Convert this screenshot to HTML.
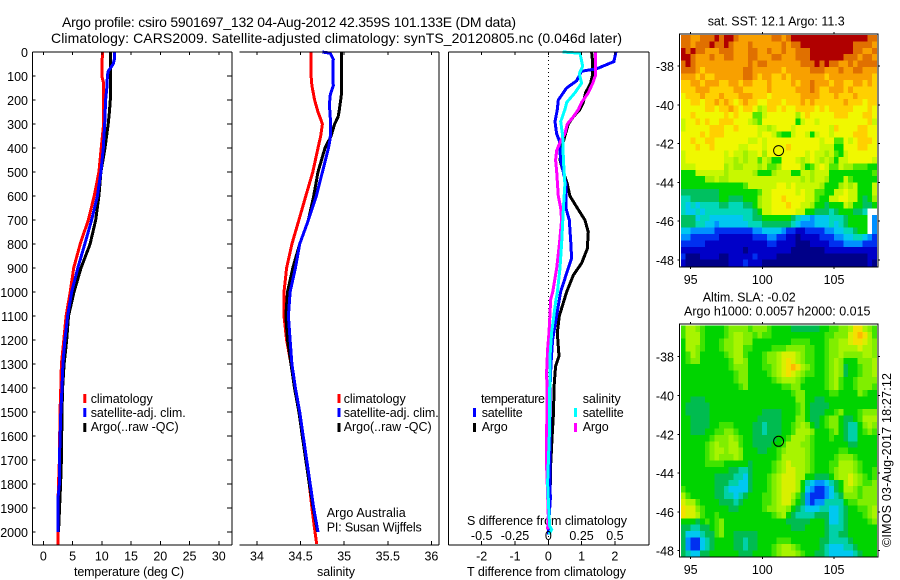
<!DOCTYPE html>
<html>
<head>
<meta charset="utf-8">
<title>Argo profile chart</title>
<style>
html,body{margin:0;padding:0;background:#fff;}
svg{display:block;}
text{font-family:"Liberation Sans",sans-serif;font-size:12.5px;fill:#000;}
.t{font-size:14px;}
</style>
</head>
<body>
<svg id="chart" xmlns="http://www.w3.org/2000/svg" width="900" height="580" viewBox="0 0 900 580">
<rect width="900" height="580" fill="#fff"/>
<text class="t" x="62" y="27" textLength="454">Argo profile: csiro 5901697_132 04-Aug-2012 42.359S 101.133E (DM data)</text>
<text class="t" x="51" y="43" textLength="571">Climatology: CARS2009. Satellite-adjusted climatology: synTS_20120805.nc (0.046d later)</text>
<text x="74" y="576" textLength="110">temperature (deg C)</text>
<text x="317" y="576" textLength="38">salinity</text>
<text x="467" y="576" textLength="159">T difference from climatology</text>
<text x="467" y="525" textLength="160">S difference from climatology</text>
<text x="326.7" y="517" textLength="79">Argo Australia</text>
<text x="326.7" y="531.7" textLength="95">PI: Susan Wijffels</text>
<text x="707.7" y="25.7" textLength="137">sat. SST: 12.1 Argo: 11.3</text>
<text x="702.7" y="301.7" textLength="93">Altim. SLA: -0.02</text>
<text x="684" y="315.7" textLength="186.5">Argo h1000: 0.0057 h2000: 0.015</text>
<text transform="translate(891 547) rotate(-90)" x="0" y="0" textLength="174">©IMOS 03-Aug-2017 18:27:12</text>
<g id="maps"></g>
<g id="panels"></g>
<g id="legends">
<rect x="83.3" y="394" width="3" height="9" fill="#f00"/>
<rect x="83.3" y="408" width="3" height="9" fill="#00f"/>
<rect x="83.3" y="423" width="3" height="9" fill="#000"/>
<text x="90.7" y="403" textLength="62">climatology</text>
<text x="90.7" y="417" textLength="95">satellite-adj. clim.</text>
<text x="90.7" y="431" textLength="88">Argo(..raw -QC)</text>
<rect x="337.5" y="394" width="3" height="9" fill="#f00"/>
<rect x="337.5" y="408" width="3" height="9" fill="#00f"/>
<rect x="337.5" y="423" width="3" height="9" fill="#000"/>
<text x="343.7" y="403" textLength="62">climatology</text>
<text x="343.7" y="417" textLength="95">satellite-adj. clim.</text>
<text x="343.7" y="431" textLength="88">Argo(..raw -QC)</text>
<text x="481" y="403" textLength="64">temperature</text>
<rect x="473" y="408" width="3" height="9" fill="#00f"/>
<rect x="473" y="423" width="3" height="9" fill="#000"/>
<text x="481.7" y="417" textLength="41">satellite</text>
<text x="481.7" y="431" textLength="26">Argo</text>
<text x="582.7" y="403" textLength="38">salinity</text>
<rect x="574" y="408" width="3" height="9" fill="#0ff"/>
<rect x="574" y="423" width="3" height="9" fill="#f0f"/>
<text x="582.7" y="417" textLength="41">satellite</text>
<text x="582.7" y="431" textLength="26">Argo</text>
</g>
</svg>
<script>
// ---------- axis ticks ----------
const depthTicks = [0,100,200,300,400,500,600,700,800,900,1000,1100,1200,1300,1400,1500,1600,1700,1800,1900,2000];
const tempTicks = [0,5,10,15,20,25,30];
const salTicks = [34,34.5,35,35.5,36];
const tDiffTicks = [-2,-1,0,1,2];
const sDiffTicks = [-0.5,-0.25,0,0.25,0.5];
const sDiffLabels = ["-0.5","-0.25","0","0.25","0.5"];
const lonTicks = [95,100,105];
const latTicks = [-38,-40,-42,-44,-46,-48];
const argoLon = 101.133;
const argoLat = -42.359;

// ---------- temperature profiles ----------
const tempClimDepth = [0,100,130,200,300,400,500,600,700,800,900,1000,1100,1200,1300,1400,1500,1700,1800,1900,2000,2055];
const tempClim = [10.1,10.0,10.3,10.3,10.3,9.9,9.5,8.7,7.7,6.3,5.2,4.6,3.9,3.5,3.1,3.0,2.85,2.75,2.6,2.5,2.5,2.5];
const tempArgoDepth = [0,100,200,250,300,400,500,600,700,800,900,1000,1100,1200,1300,1400,1500,1700,1800,2000];
const tempArgo = [11.45,11.45,11.45,11.3,11.1,10.55,9.85,9.5,8.95,8.0,6.45,5.25,4.3,4.0,3.55,3.3,3.2,3.1,2.95,2.6];
const tempSatDepth = [0,30,50,80,100,150,200,300,400,500,600,700,800,900,1000,1100,1200,1300,1400,1500,1700,1800,1850,2000];
const tempSat = [12.15,12.15,11.95,11.1,10.95,10.85,10.65,10.5,10.25,9.85,9.25,8.25,7.1,5.9,4.85,4.15,3.7,3.35,3.2,3.0,2.75,2.75,2.55,2.5];

// ---------- salinity profiles ----------
const salClimDepth = [0,100,140,200,250,280,300,350,400,450,500,600,700,800,900,1000,1100,1200,1300,1400,1500,1600,1700,1800,1900,2000,2050];
const salClim = [34.62,34.62,34.63,34.66,34.70,34.73,34.75,34.73,34.70,34.67,34.64,34.56,34.48,34.40,34.34,34.31,34.31,34.34,34.39,34.43,34.48,34.52,34.56,34.60,34.63,34.665,34.685];
const salArgoDepth = [0,170,200,250,270,300,350,400,450,500,600,700,800,900,1000,1100,1200,1300,1400,1500,1600,1700,1800,1900,2000];
const salArgo = [34.97,34.97,34.96,34.94,34.93,34.89,34.85,34.78,34.74,34.70,34.65,34.59,34.49,34.41,34.35,34.33,34.35,34.39,34.43,34.48,34.52,34.56,34.60,34.645,34.695];
const salSatDepth = [0,5,30,70,100,140,180,220,300,360,400,500,600,700,800,900,1000,1100,1200,1300,1400,1500,1600,1700,1800,1900,2000];
const salSat = [34.75,34.84,34.875,34.87,34.87,34.875,34.84,34.83,34.845,34.84,34.82,34.75,34.68,34.59,34.49,34.44,34.38,34.36,34.38,34.40,34.44,34.49,34.53,34.57,34.61,34.65,34.70];

// ---------- differences from climatology ----------
const tDiffSatDepth = [0,40,70,80,120,150,200,240,290,340,370,450,550,650,700,800,860,900,1000,1100,1200,1300,1400,1725,1864,1989,2010];
const tDiffSat = [2.03,1.97,1.45,1.0,0.85,0.55,0.3,0.27,0.2,0.25,0.33,0.37,0.53,0.53,0.63,0.68,0.70,0.6,0.37,0.25,0.13,0.08,0.05,0.05,0.06,0.0,0.0];
const tDiffArgoDepth = [0,40,100,130,170,210,240,270,300,350,400,450,500,550,600,650,700,750,820,880,930,1000,1100,1170,1267,1309,1378,1517,1587,1725,1864,1989];
const tDiffArgo = [1.3,1.33,1.32,1.27,1.12,1.05,0.95,0.75,0.6,0.5,0.4,0.35,0.45,0.57,0.65,0.87,1.1,1.2,1.17,1.0,0.75,0.55,0.33,0.27,0.32,0.22,0.18,0.15,0.12,0.07,0.05,0.0];
const sDiffSatDepth = [0,5,60,90,130,170,210,240,290,350,450,550,650,800,900,1000,1031,1170,1267,1587,1795,1864,1975,1989,2010];
const sDiffSat = [0.108,0.238,0.258,0.233,0.25,0.2,0.138,0.125,0.093,0.108,0.113,0.125,0.113,0.1,0.088,0.068,0.058,0.025,0.013,0.008,-0.005,0,0.01,0.025,0.005];
const sDiffArgoDepth = [0,100,130,170,210,240,270,300,340,370,410,450,500,600,650,700,800,900,1000,1031,1170,1240,1336,1448,1587,1725,1795,1933,1989];
const sDiffArgo = [0.355,0.353,0.333,0.3,0.25,0.225,0.188,0.143,0.125,0.093,0.063,0.055,0.063,0.075,0.093,0.1,0.083,0.063,0.033,0.018,0.005,-0.005,-0.013,-0.008,-0.013,-0.013,-0.008,0,-0.005];

// ---------- maps: each char is a colour level 0-f of the colour scale, x = no data (spaces are ignored) ----------
const sstRows = [
"eeddeeefef feddddddde edefffffff fffffffffe e",
"eedeeefeef edddeddddd dedeefffff ffffffeeee d",
"fefeedddee edddeedded deddeeefff ffffffeedd e",
"ffedddedde edddeeddde edddeeefff ffffeeedee d",
"efeddddddd ddddedeedd dddddeeefe feeddedeee e",
"eeedcddddd dddeeddddd dcdddddeee dddeddeedd d",
"dddcdccddd dddeedcddc cdcddddddd cddddddddd c",
"ccddcdddcc ddcddcccdc cccdcddedd dcddccddcd c",
"cccdddcccc cddcccccdc ccccdddedc cdddcdcccc c",
"bcccdcccdc ccdddcccbc cccccddddc ccdcccdccc c",
"bbccbccdcd cbcdccbbcc cbcccdcdcc ccccdcccbc c",
"bbbbbccbcc dcbccb9acc bcbbccccbc bcccccbbbc b",
"bbcbbbbbbc bcbbb88abb bbbb9bcbbb bbcccbbbcc b",
"abbcbcbbcc cbbba98bbb bbbb7abbab bbbbbbbbbc a",
"abbbbbcccb bcbbbbaa9a bbbabbbbbb bacbbbbccb b",
"bbbbcbcccb bbbbbbabba 877abba7ab babbbbcccb b",
"bbcbbccbbb bbbbaababb bbbbbbbbba bb88babccc b",
"bbbcbbcbbb bbaabbbabb bbcbbbbbba aa77bbbccb b",
"abbbbbbbba baa9aab9bb bbbbbbabaa 9a87abbbbb b",
"abbbbbbbba a9a9aa8a97 7bbba9aba9 a97aabbbbb a",
"aaabbbbbb9 a99aaa9a88 9bbbb978ab a88a998887 7",
"777aaaaaa9 aaaaa97779 aaa77aa9aa a777777777 8",
"7777799a99 aaaaaaaaaa aaaaa9a9aa 9777a87777 7",
"7777777777 7778aaaaaa bbabaaaaa9 7779a9a777 a",
"6666666677 7777778aab bbbbabaa88 77aabaa777 a",
"5566666677 6667779aab bcbbbbaa87 7aabbaa767 9",
"5454555566 5556679aab bbcbbaa977 6777a97766 7",
"5445455555 5555567aab bbbbaa7766 656777665x x",
"6664554444 4445566777 7776544344 455567777x 3",
"6665544344 4444555666 6665433344 454567777x 3",
"4433333222 2222233444 4322112222 334455677x 3",
"3322222211 1111122233 2211011112 2233445543 2",
"2222211111 1111111122 1111000111 1222333322 2",
"1111111111 1110111111 1110000000 1111111111 1",
"2000111100 1111121111 0000000000 0000000001 1",
"1000000000 1112111000 0000000000 0000000001 0"
];
const slaRows = [
"8aa9877778 9999899987 7776666667 78899acca9 8",
"8aaa877778 9aa9989887 7777777777 88999bcdca 8",
"7aaa877789 9aa9977777 7778888777 899aabccba 9",
"7aa9877789 9aa8877778 8899998877 899aaaabaa 9",
"78a9777778 9aa8777899 abbba98877 899a9999aa 9",
"7899777777 8aa9777899 abcba98877 89a9777999 a",
"7777777777 8999777889 abcdca9877 89a9677899 a",
"7777777777 7899777789 abcba98877 89a9677899 a",
"7777777777 7899777778 9aaa987777 89a8778999 9",
"7777777777 7789777777 7889977777 89a8778999 8",
"7777777777 7777777777 7778997777 7887777987 7",
"7766677777 7777777777 7777997766 7777777777 7",
"7666667777 7777777777 7777897666 6777777777 7",
"7666667777 7777777666 6777897666 7789777899 9",
"7766667777 7777776666 6777997667 89976678aa a",
"7766667788 8777766566 67789a9767 899765579a 9",
"7766677889 9877766566 6778aaa977 7897655789 8",
"7777778999 a987766666 778aaa9877 7877655777 7",
"7777789a99 aa87766667 78aaa99877 7777766777 7",
"7777789aa9 aa97776677 89aaaa9877 7778877777 7",
"7777789a99 9a97777777 8aaaaa9877 7789998777 7",
"7777788887 7777677778 9abaaa9877 788aaa9877 7",
"7777777777 6655677778 9abbaa9877 789aaa9877 8",
"7777777666 6554677789 abbbaa7766 679aaba987 8",
"7777777666 5544677789 abbba75433 4567aba988 9",
"8777777665 4444677789 abbba74322 3467aa9899 9",
"a877777665 5456777889 abba863222 3456999899 9",
"baa8777766 6567777889 abb9763233 5555788999 9",
"cbb9877777 6677777899 aa97654445 5445677889 a",
"cbba877877 7777777778 9a76555566 6445677789 a",
"7776787897 7777777777 7766666777 6445677778 9",
"6655667897 7777777777 7776667777 6555677777 7",
"6444566897 7666667777 7777777777 6556677777 7",
"6322456777 7665667777 8887777776 6555567777 7",
"6322456777 7665667778 9aa9877776 5444556777 7",
"6544667777 7766677778 9aaa987766 5444445677 7"
];
const sstColors = ["#000088","#0000c8","#0030f0","#0090ff","#00c8f0","#00d8b8","#00c060","#00d800","#50e800","#a0f000","#c8f800","#f0f800","#ffd000","#f8a000","#e07000","#b00000"];
const slaColors = ["#000088","#0000c8","#0030f0","#0090ff","#00c8f0","#00d0a8","#00bc50","#00d400","#40e400","#80ee00","#a8f400","#d8f000","#f4e000","#ffb800","#e07000","#b00000"];

// ---------- helpers ----------
const NS = "http://www.w3.org/2000/svg";
function mk(parent, tag, attrs, txt) {
  const e = document.createElementNS(NS, tag);
  for (const k in attrs) e.setAttribute(k, attrs[k]);
  if (txt !== undefined) e.textContent = txt;
  parent.appendChild(e);
  return e;
}
const panelsG = document.getElementById("panels");
const mapsG = document.getElementById("maps");
const Y = function (d) { return 52 + 0.24 * d; };
const xTemp = function (v) { return 43.3 + 5.85 * v; };
const xSal = function (v) { return 257 + 87.2 * (v - 34); };
const xT = function (v) { return 548.3 + 33.3 * v; };
const xS = function (v) { return 548.3 + 133.2 * v; };

function hline(x1, x2, y, name) {
  const l = mk(panelsG, "line", {x1:x1, x2:x2, y1:y, y2:y, stroke:"#000", "stroke-width":1, "shape-rendering":"crispEdges"});
  
  
}
function vline(x, y1, y2, name) {
  const l = mk(panelsG, "line", {x1:x, x2:x, y1:y1, y2:y2, stroke:"#000", "stroke-width":1, "shape-rendering":"crispEdges"});
  
  
}
function series(depths, values, xf, color, name) {
  const pts = depths.map(function (d, i) { return xf(values[i]).toFixed(1) + "," + Y(d).toFixed(1); }).join(" ");
  const p = mk(panelsG, "polyline", {points:pts, fill:"none", stroke:color, "stroke-width":3, "shape-rendering":"crispEdges", "stroke-linejoin":"miter"});
  
  
}
function label(parent, x, y, anchor, txt, name) {
  const t = mk(parent, "text", {x:x, y:y, "text-anchor":anchor}, txt);
  
  
}

// ---------- map drawing ----------
function drawMap(rowStrings, colors, top, latY, prefix) {
  const rows = rowStrings.map(function (r) { return r.replace(/\s/g, ""); });
  const lonX = function (lon) { return 690.7 + 14.33 * (lon - 95); };
  const cellLon = 1 / 3, cellLat = 0.331;
  const lon0 = 94.32, lat0 = -36.4;
  for (let r = 0; r < rows.length; r++) {
    for (let c = 0; c < rows[r].length; c++) {
      const ch = rows[r][c];
      if (ch === "x") continue;
      const level = parseInt(ch, 16);
      const x0 = lonX(lon0 + c * cellLon), x1 = lonX(lon0 + (c + 1) * cellLon);
      const y0 = latY(lat0 - r * cellLat), y1 = latY(lat0 - (r + 1) * cellLat);
      const cell = mk(mapsG, "rect", {x:x0.toFixed(2), y:y0.toFixed(2), width:(x1 - x0 + 0.4).toFixed(2), height:(y1 - y0 + 0.4).toFixed(2), fill:colors[level], "shape-rendering":"crispEdges"});
      
      
    }
  }
  const frame = mk(mapsG, "rect", {x:679.5, y:top, width:198.5, height:233, fill:"none", stroke:"#000", "stroke-width":1, "shape-rendering":"crispEdges"});
  
  
  lonTicks.forEach(function (lon) {
    const x = lonX(lon);
    const t1 = mk(mapsG, "line", {x1:x, x2:x, y1:top - 2, y2:top, stroke:"#000", "shape-rendering":"crispEdges"});
    
    
    const t2 = mk(mapsG, "line", {x1:x, x2:x, y1:top + 233, y2:top + 235, stroke:"#000", "shape-rendering":"crispEdges"});
    
    
    label(mapsG, x, top + 250, "middle", String(lon), prefix + '-lon-label');
  });
  latTicks.forEach(function (lat) {
    const y = latY(lat);
    const t1 = mk(mapsG, "line", {x1:677.5, x2:679.5, y1:y, y2:y, stroke:"#000", "shape-rendering":"crispEdges"});
    
    
    const t2 = mk(mapsG, "line", {x1:878, x2:880, y1:y, y2:y, stroke:"#000", "shape-rendering":"crispEdges"});
    
    
    label(mapsG, 674, y + 5, "end", String(lat), prefix + '-lat-label');
  });
  const circ = mk(mapsG, "circle", {cx:lonX(argoLon).toFixed(1), cy:latY(argoLat).toFixed(1), r:5, fill:"none", stroke:"#000", "stroke-width":1});
  
  
}
drawMap(sstRows, sstColors, 34, function (lat) { return 66 + 19.4 * (-lat - 38); }, "sst-map");
drawMap(slaRows, slaColors, 324, function (lat) { return 356.7 + 19.4 * (-lat - 38); }, "sla-map");

// ---------- profile panels: series ----------
const zero = mk(panelsG, "line", {x1:xT(0), x2:xT(0), y1:52, y2:545, stroke:"#000", "stroke-width":1, "stroke-dasharray":"1 3", "shape-rendering":"crispEdges"});



series(tempClimDepth, tempClim, xTemp, "#f00", "temperature-climatology-line");
series(tempArgoDepth, tempArgo, xTemp, "#000", "temperature-argo-line");
series(tempSatDepth, tempSat, xTemp, "#00f", "temperature-satellite-line");
series(salClimDepth, salClim, xSal, "#f00", "salinity-climatology-line");
series(salArgoDepth, salArgo, xSal, "#000", "salinity-argo-line");
series(salSatDepth, salSat, xSal, "#00f", "salinity-satellite-line");
series(tDiffArgoDepth, tDiffArgo, xT, "#000", "t-difference-argo-line");
series(tDiffSatDepth, tDiffSat, xT, "#00f", "t-difference-satellite-line");
series(sDiffArgoDepth, sDiffArgo, xS, "#f0f", "s-difference-argo-line");
series(sDiffSatDepth, sDiffSat, xS, "#0ff", "s-difference-satellite-line");

// ---------- profile panels: frames ----------
hline(32.5, 232, 52, "temperature-panel-top");
hline(32.5, 232, 545, "temperature-panel-bottom");
vline(32.5, 52, 545, "temperature-panel-left");
vline(232, 52, 545, "temperature-panel-right");
hline(239.5, 439, 52, "salinity-panel-top");
hline(239.5, 439, 545, "salinity-panel-bottom");
vline(439, 52, 545, "salinity-panel-right");
hline(448.5, 649, 52, "difference-panel-top");
hline(448.5, 649, 545, "difference-panel-bottom");
vline(448.5, 52, 545, "difference-panel-left");
vline(649, 52, 545, "difference-panel-right");

// ---------- ticks and labels ----------
depthTicks.forEach(function (d) {
  const y = Y(d);
  hline(32.5, 35.5, y, "depth-tick-left");
  hline(227, 232, y, "depth-tick-right");
  label(panelsG, 28, y + 5, "end", String(d), "depth-label");
});
tempTicks.forEach(function (v) {
  const x = xTemp(v);
  vline(x, 52, 55, "temperature-tick-top");
  vline(x, 541, 545, "temperature-tick-bottom");
  label(panelsG, x, 560.7, "middle", String(v), "temperature-tick-label");
});
salTicks.forEach(function (v) {
  const x = xSal(v);
  vline(x, 52, 55, "salinity-tick-top");
  vline(x, 541, 545, "salinity-tick-bottom");
  label(panelsG, x, 560.7, "middle", String(v), "salinity-tick-label");
});
tDiffTicks.forEach(function (v) {
  const x = xT(v);
  vline(x, 52, 55, "t-difference-tick-top");
  vline(x, 541, 545, "t-difference-tick-bottom");
  label(panelsG, x, 560.7, "middle", String(v), "t-difference-tick-label");
});
sDiffTicks.forEach(function (v, i) {
  label(panelsG, xS(v), 540, "middle", sDiffLabels[i], "s-difference-tick-label");
});
</script>
</body>
</html>
